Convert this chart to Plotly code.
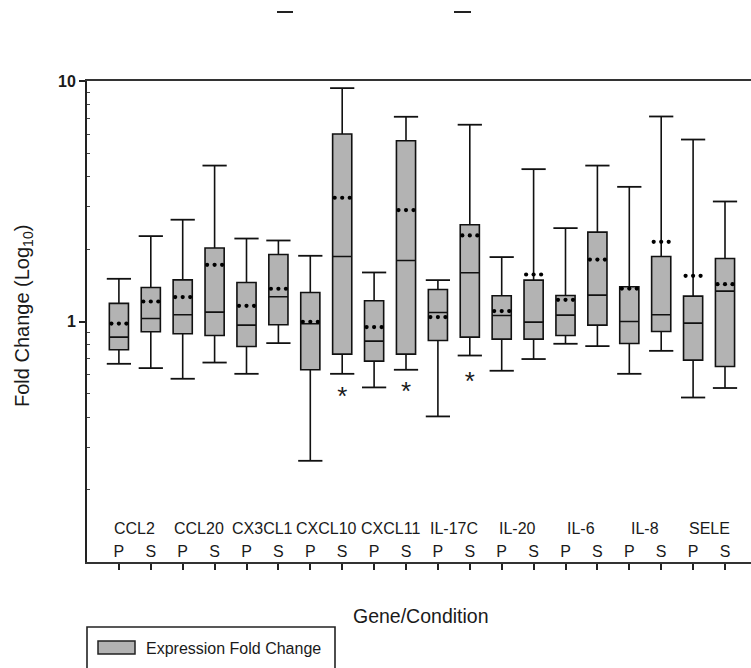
import plotly.graph_objects as go

# ---- data ----
genes = ["CCL2", "CCL20", "CX3CL1", "CXCL10", "CXCL11", "IL-17C", "IL-20", "IL-6", "IL-8", "SELE"]
conditions = ["P", "S"]

upper_whisker = [1.505, 2.265, 2.65, 4.45, 2.213, 2.172, 1.876, 9.34, 1.599, 7.1,
                 1.486, 6.58, 1.853, 4.30, 2.445, 4.45, 3.63, 7.12, 5.71, 3.155]
q3 = [1.19, 1.385, 1.49, 2.02, 1.453, 1.90, 1.32, 6.02, 1.219, 5.64,
      1.359, 2.524, 1.279, 1.486, 1.283, 2.353, 1.394, 1.864, 1.275, 1.828]
means = [0.98, 1.211, 1.263, 1.72, 1.162, 1.368, 0.997, 3.27, 0.948, 2.906,
         1.043, 2.279, 1.105, 1.568, 1.231, 1.81, 1.371, 2.145, 1.549, 1.43]
medians = [0.861, 1.029, 1.066, 1.094, 0.966, 1.267, 0.978, 1.864, 0.829, 1.793,
           1.09, 1.594, 1.059, 0.994, 1.063, 1.287, 1.0, 1.066, 0.985, 1.338]
q1 = [0.763, 0.906, 0.889, 0.875, 0.787, 0.969, 0.63, 0.732, 0.684, 0.732,
      0.834, 0.861, 0.845, 0.845, 0.875, 0.966, 0.81, 0.909, 0.691, 0.65]
lower_whisker = [0.667, 0.64, 0.578, 0.675, 0.606, 0.813, 0.2635, 0.606, 0.532, 0.63,
                 0.403, 0.722, 0.624, 0.698, 0.808, 0.79, 0.606, 0.755, 0.483, 0.529]

significant_idx = [7, 9, 11]
significant_y = [0.477, 0.501, 0.551]

y_tickvals = [0.1, 1, 10]
y_ticktext = ["0.1", "1", "10"]
y_minor = [0.2, 0.3, 0.4, 0.5, 0.6, 0.7, 0.8, 0.9, 2, 3, 4, 5, 6, 7, 8, 9]

legend_label = "Expression Fold Change"
x_title = "Gene/Condition"
y_title = "Fold Change (Log<sub>10</sub>)"

# ---- styling ----
FONT = "Liberation Sans, Arial, Helvetica, sans-serif"
TXT = "#1a1a1a"
FILL = "#b3b3b3"
BOX_W = 0.6
CAP_HALF = 0.38
DOT_OFF = 0.235

W, H = 751, 668
ML, MR, MT, MB = 87, 0, 81, 106
PW, PH = W - ML - MR, H - MT - MB


def px_x(px):
    return (px - ML) / PW


def px_y(py):
    return (H - MB - py) / PH


n = len(genes) * len(conditions)
positions = list(range(n))
tick_labels = [c for _ in genes for c in conditions]

fig = go.Figure()

fig.add_trace(go.Box(
    x=positions, q1=q1, median=medians, q3=q3,
    lowerfence=lower_whisker, upperfence=upper_whisker,
    width=BOX_W, whiskerwidth=0,
    fillcolor=FILL, line=dict(color="#111111", width=1.6),
    boxpoints=False, showlegend=False, hoverinfo="skip",
))

# whisker caps (wider than the boxes)
cap_x, cap_y = [], []
for i in positions:
    for v in (upper_whisker[i], lower_whisker[i]):
        cap_x += [i - CAP_HALF, i + CAP_HALF, None]
        cap_y += [v, v, None]
fig.add_trace(go.Scatter(x=cap_x, y=cap_y, mode="lines",
                         line=dict(color="#111111", width=1.8),
                         showlegend=False, hoverinfo="skip"))

# mean shown as a dotted line of three dots
dot_x, dot_y = [], []
for i in positions:
    for off in (-DOT_OFF, 0, DOT_OFF):
        dot_x.append(i + off)
        dot_y.append(means[i])
fig.add_trace(go.Scatter(x=dot_x, y=dot_y, mode="markers",
                         marker=dict(color="#000000", size=4.2),
                         showlegend=False, hoverinfo="skip"))

# significance asterisks
fig.add_trace(go.Scatter(x=significant_idx, y=significant_y, mode="text",
                         text=["*"] * len(significant_idx),
                         textfont=dict(family=FONT, size=26, color=TXT),
                         showlegend=False, hoverinfo="skip"))

annotations = []
# gene labels above the P/S pairs
for g, name in enumerate(genes):
    annotations.append(dict(
        x=2 * g + 0.5, y=-0.861, xref="x", yref="y", text=name, showarrow=False,
        font=dict(family=FONT, size=16, color=TXT), xanchor="center", yanchor="middle"))
# axis titles
annotations.append(dict(x=px_x(421), y=px_y(616), xref="paper", yref="paper",
                        text=x_title, showarrow=False,
                        font=dict(family=FONT, size=19.5, color=TXT),
                        xanchor="center", yanchor="middle"))
annotations.append(dict(x=px_x(23), y=px_y(316), xref="paper", yref="paper",
                        text=y_title, showarrow=False, textangle=-90,
                        font=dict(family=FONT, size=20, color=TXT),
                        xanchor="center", yanchor="middle"))
# legend text
annotations.append(dict(x=px_x(144), y=px_y(648), xref="paper", yref="paper",
                        text=legend_label, showarrow=False,
                        font=dict(family=FONT, size=16, color=TXT),
                        xanchor="left", yanchor="middle"))

shapes = [
    # legend frame
    dict(type="rect", xref="paper", yref="paper", x0=px_x(87), x1=px_x(335),
         y0=px_y(627), y1=px_y(672), line=dict(color="#222222", width=1.6),
         fillcolor="rgba(0,0,0,0)"),
    # legend swatch
    dict(type="rect", xref="paper", yref="paper", x0=px_x(98), x1=px_x(135),
         y0=px_y(641), y1=px_y(654), line=dict(color="#222222", width=1.5),
         fillcolor=FILL),
    # stray marks at top of the cropped figure
    dict(type="line", xref="paper", yref="paper", x0=px_x(277), x1=px_x(293),
         y0=px_y(12), y1=px_y(12), line=dict(color="#222222", width=2)),
    dict(type="line", xref="paper", yref="paper", x0=px_x(454), x1=px_x(471),
         y0=px_y(12), y1=px_y(12), line=dict(color="#222222", width=2)),
]

fig.update_layout(
    width=W, height=H,
    margin=dict(l=ML, r=MR, t=MT, b=MB, pad=0),
    paper_bgcolor="white", plot_bgcolor="white",
    showlegend=False,
    font=dict(family=FONT, color=TXT),
    annotations=annotations,
    shapes=shapes,
    xaxis=dict(
        range=[-1, (W - ML) / 31.9 - 1], tickmode="array",
        tickvals=positions, ticktext=tick_labels,
        ticks="outside", ticklen=6, tickwidth=1.5, tickcolor="#222222",
        ticklabelposition="inside", ticklabelstandoff=2,
        tickfont=dict(family=FONT, size=16, color=TXT),
        showline=True, linecolor="#333333", linewidth=2, mirror=True,
        showgrid=False, zeroline=False,
    ),
    yaxis=dict(
        type="log", range=[-1, 1], tickmode="array",
        tickvals=y_tickvals, ticktext=y_ticktext,
        ticks="outside", ticklen=6, tickwidth=1.5, tickcolor="#222222",
        tickfont=dict(family=FONT, size=16, color=TXT, weight="bold"),
        minor=dict(tickmode="array", tickvals=y_minor, ticks="inside",
                   ticklen=3, tickwidth=1, tickcolor="#444444", showgrid=False),
        showline=True, linecolor="#222222", linewidth=1.8, mirror=False,
        showgrid=False, zeroline=False,
    ),
)

fig.write_html(
    "out.html",
    config={"displayModeBar": False},
    post_script="document.body.style.margin='0';document.body.style.overflow='hidden';"
                "document.documentElement.style.overflow='hidden';",
)
